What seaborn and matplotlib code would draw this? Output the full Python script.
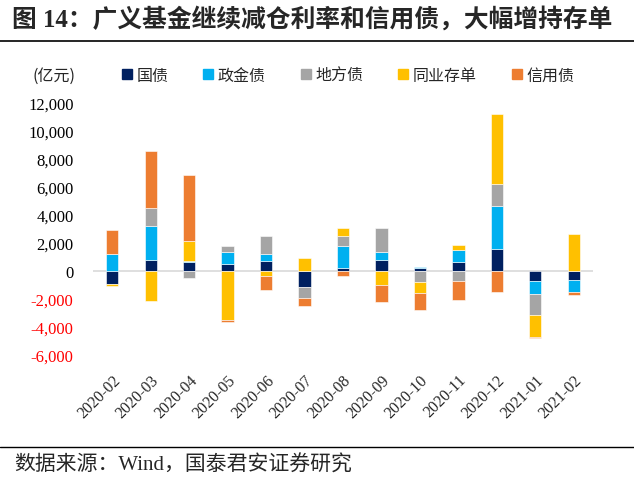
import matplotlib
matplotlib.use("Agg")
import matplotlib.pyplot as plt
from matplotlib.lines import Line2D
import seaborn as sns
import numpy as np
import pandas as pd

months = ["2020-02", "2020-03", "2020-04", "2020-05", "2020-06", "2020-07", "2020-08",
          "2020-09", "2020-10", "2020-11", "2020-12", "2021-01", "2021-02"]
series_names = ["国债", "政金债", "地方债", "同业存单", "信用债"]
guozhai = [-900, 760, 620, 480, 690, -1140, 190, 760, 240, 670, 1550, -690, -620]
zhengjin = [1200, 2430, 100, 860, 500, 0, 1570, 570, 70, 810, 3120, -980, -880]
difang = [0, 1310, -480, 430, 1290, -810, 760, 1740, -810, -710, 1570, -1500, 0]
tongye = [-150, -2120, 1450, -3520, -330, 950, 550, -1000, -790, 360, 4950, -1570, 2670]
xinyong = [1700, 4050, 4690, -100, -1000, -550, -360, -1240, -1190, -1330, -1520, -50, -240]
colors = ["#002060", "#00B0F0", "#A5A5A5", "#FFC000", "#ED7D31"]
yticks = [-6000, -4000, -2000, 0, 2000, 4000, 6000, 8000, 10000, 12000]

sns.set_theme(style="white")
plt.rcParams['font.family'] = ['Liberation Serif', 'Noto Sans CJK SC', 'DejaVu Sans']
CJK = ['Noto Sans CJK SC', 'DejaVu Sans']

fig = plt.figure(figsize=(6.34, 4.81), dpi=100)
ax = fig.add_axes([93/634, 1-356/481, 500/634, 252/481])

all_series = [guozhai, zhengjin, difang, tongye, xinyong]
pos_base = np.zeros(len(months))
neg_base = np.zeros(len(months))
for vals, col in zip(all_series, colors):
    v = np.array(vals, dtype=float)
    bottoms = np.where(v >= 0, pos_base, neg_base)
    df = pd.DataFrame({"month": months, "value": v})
    sns.barplot(data=df, x="month", y="value", order=months, color=col, width=0.32,
                errorbar=None, bottom=bottoms, saturation=1, ax=ax,
                edgecolor="white", linewidth=0.4)
    pos_base = pos_base + np.where(v > 0, v, 0)
    neg_base = neg_base + np.where(v < 0, v, 0)

ax.set_xlim(-0.5, len(months) - 0.5)
ax.set_ylim(-6000, 12000)
ax.axhline(0, color="#D9D9D9", linewidth=1.2, zorder=0.5)
for s in ax.spines.values():
    s.set_visible(False)
ax.set_xlabel("")
ax.set_ylabel("")
ax.set_yticks(yticks)
ax.set_yticklabels([f"{t:,}" for t in yticks], fontsize=12)
for lab, t in zip(ax.get_yticklabels(), yticks):
    lab.set_color("red" if t < 0 else "black")
ax.tick_params(axis="y", length=0, pad=14)
ax.tick_params(axis="x", length=0, pad=12)
ax.set_xticks(range(len(months)))
ax.set_xticklabels(months, rotation=45, ha="right", va="top", rotation_mode="anchor", fontsize=11.5)

# Title and rules
fig.text(12/634, 1-19/481, "图 14：广义基金继续减仓利率和信用债，大幅增持存单", fontsize=17.8,
         fontweight="bold", ha="left", va="center")
fig.add_artist(Line2D([0, 1], [1-42/481, 1-42/481], color="black", linewidth=1.2))
fig.add_artist(Line2D([0, 1], [1-448/481, 1-448/481], color="black", linewidth=1.0))
fig.text(14/634, 1-466/481, "数据来源：Wind，国泰君安证券研究", fontsize=15, ha="left", va="center")

# Legend
fig.text(32/634, 1-76/481, "(亿元)", fontsize=11.5, ha="left", va="center", family=CJK)
handles = [Line2D([], [], marker="s", linestyle="none", markersize=7, color=c) for c in colors]
leg = fig.legend(handles, series_names, loc="center left", bbox_to_anchor=(122/634, 1-76/481),
                 ncol=5, frameon=False, handlelength=0.6, handletextpad=0.3, columnspacing=2.2,
                 prop={"family": CJK, "size": 11.5}, borderaxespad=0, borderpad=0)

fig.savefig("out.png", dpi=100)
